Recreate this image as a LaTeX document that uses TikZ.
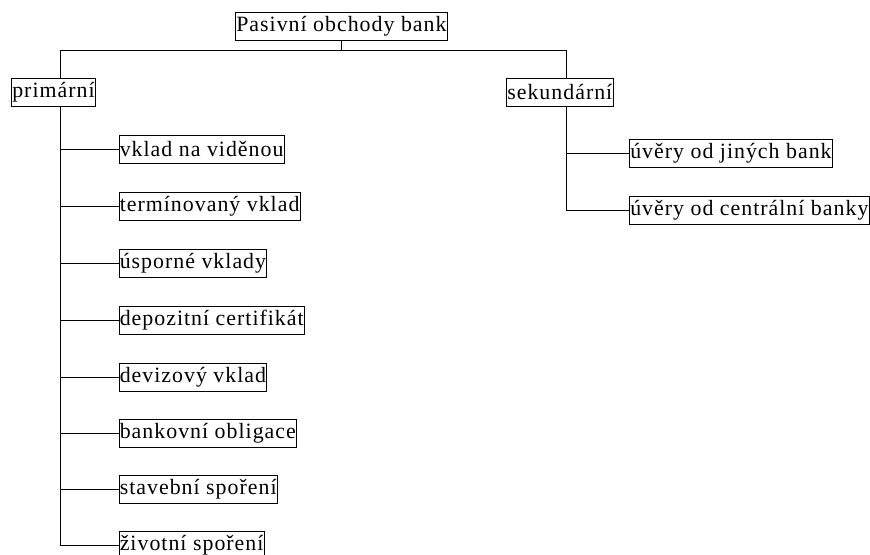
\documentclass[tikz,border=0pt]{standalone}
\usepackage{fontspec}
\setmainfont{Liberation Serif}[LetterSpace=4.6]
\usetikzlibrary{positioning}

\begin{document}
\begin{tikzpicture}[
  x=0.75pt,y=-0.75pt,
  box/.style={draw,line width=0.75pt,anchor=west,inner xsep=0.6pt,inner ysep=0pt,minimum height=21pt,font=\fontsize{16.4}{18}\selectfont},
  link/.style={line width=0.75pt},
]
  \useasboundingbox (0,0) rectangle (870,554);

  \node[box] (top) at (235,26.5) {Pasivní obchody bank};
  \node[box] (p) at (11,92.5) {primární};
  \node[box] (s) at (506,92.5) {sekundární};

  \node[box] (p1) at (118.5,149) {vklad na viděnou};
  \node[box] (p2) at (118.5,206) {termínovaný vklad};
  \node[box] (p3) at (118.5,263) {úsporné vklady};
  \node[box] (p4) at (118.5,320) {depozitní certifikát};
  \node[box] (p5) at (118.5,377) {devizový vklad};
  \node[box] (p6) at (118.5,433) {bankovní obligace};
  \node[box] (p7) at (118.5,489) {stavební spoření};
  \node[box] (p8) at (118.5,545) {životní spoření};

  \node[box] (s1) at (629,153.5) {úvěry od jiných bank};
  \node[box] (s2) at (629,210.5) {úvěry od centrální banky};

  % main bar
  \coordinate (pj) at (60,50);
  \coordinate (sj) at (566,50);
  \draw[link] (top.south) -- (top.south |- pj);
  \draw[link] (p.north -| pj) -- (pj) -- (sj) -- (s.north -| sj);

  % primarni branch
  \coordinate (pt) at (p.south -| pj);
  \draw[link] (pt) |- (p8.west);
  \draw[link] (pt) |- (p1.west);
  \draw[link] (pt) |- (p2.west);
  \draw[link] (pt) |- (p3.west);
  \draw[link] (pt) |- (p4.west);
  \draw[link] (pt) |- (p5.west);
  \draw[link] (pt) |- (p6.west);
  \draw[link] (pt) |- (p7.west);

  % sekundarni branch
  \coordinate (st) at (s.south -| sj);
  \draw[link] (st) |- (s2.west);
  \draw[link] (st) |- (s1.west);
\end{tikzpicture}
\end{document}
